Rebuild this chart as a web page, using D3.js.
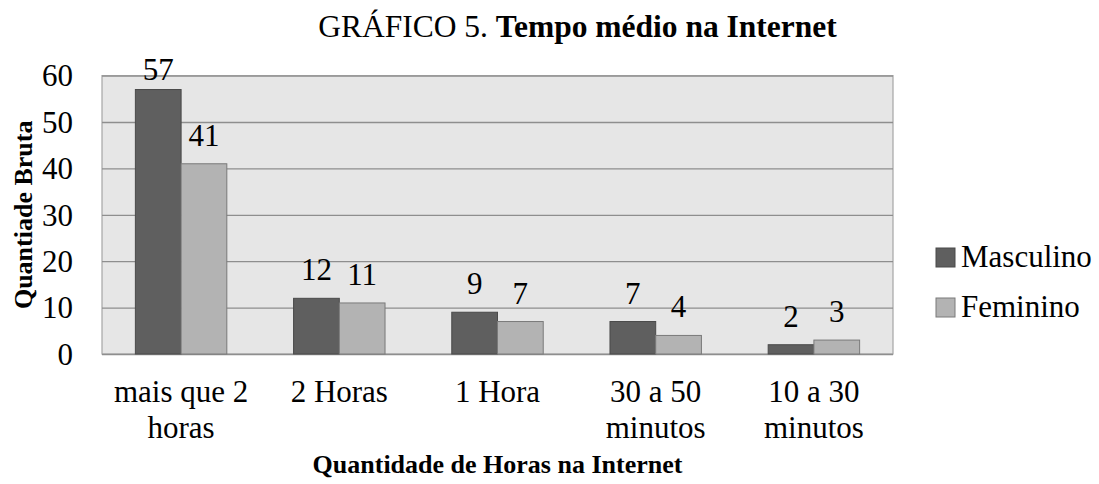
<!DOCTYPE html>
<html>
<head>
<meta charset="utf-8">
<script src="https://cdn.jsdelivr.net/npm/d3@7"></script>
<style>
  html, body { margin: 0; padding: 0; background: #fff; }
  svg text { font-family: "Liberation Serif", "DejaVu Serif", serif; }
</style>
</head>
<body>
<svg id="chart" width="1099" height="484"></svg>
<script>
const categories = [["mais que 2", "horas"], ["2 Horas"], ["1 Hora"], ["30 a 50", "minutos"], ["10 a 30", "minutos"]];
const seriesNames = ["Masculino", "Feminino"];
const masculino = [57, 12, 9, 7, 2];
const feminino = [41, 11, 7, 4, 3];
const yTicks = [0, 10, 20, 30, 40, 50, 60];
const colors = ["#5f5f5f", "#b3b3b3"];
const strokes = ["#4a4a4a", "#7a7a7a"];

const svg = d3.select("#chart");
const plot = { left: 102, right: 893, top: 75.6, bottom: 354 };

const x0 = d3.scaleBand().domain(d3.range(categories.length)).range([plot.left, plot.right]).padding(0);
const x1 = d3.scaleBand().domain(d3.range(seriesNames.length)).range([0, x0.bandwidth()]).paddingInner(0).paddingOuter(0.73);
const y = d3.scaleLinear().domain([0, 60]).range([plot.bottom, plot.top]);

svg.append("rect")
  .attr("x", plot.left).attr("y", plot.top)
  .attr("width", plot.right - plot.left).attr("height", plot.bottom - plot.top)
  .attr("fill", "#e6e6e6").attr("stroke", "#a6a6a6").attr("stroke-width", 1.2);

const yAxis = d3.axisLeft(y).tickValues(yTicks).tickSize(-(plot.right - plot.left)).tickFormat("");
const ga = svg.append("g").attr("transform", `translate(${plot.left},0)`).call(yAxis);
ga.select(".domain").remove();
ga.selectAll(".tick line").attr("stroke", "#8e8e8e").attr("stroke-width", 1.3);

svg.append("g").selectAll("text").data(yTicks).join("text")
  .attr("x", 73).attr("y", d => y(d)).attr("dy", "0.35em")
  .attr("text-anchor", "end").attr("font-size", 31).attr("fill", "#000")
  .text(d => d);

const data = [masculino, feminino];
const groups = svg.append("g").selectAll("g").data(categories).join("g")
  .attr("transform", (d, i) => `translate(${x0(i)},0)`);

groups.selectAll("rect").data((d, i) => data.map((s, k) => ({ k, v: s[i] }))).join("rect")
  .attr("x", d => x1(d.k)).attr("y", d => y(d.v))
  .attr("width", x1.bandwidth()).attr("height", d => y(0) - y(d.v))
  .attr("fill", d => colors[d.k]).attr("stroke", d => strokes[d.k]).attr("stroke-width", 1);

groups.selectAll("text.lbl").data((d, i) => data.map((s, k) => ({ k, v: s[i] }))).join("text")
  .attr("class", "lbl")
  .attr("x", d => x1(d.k) + x1.bandwidth() / 2)
  .attr("y", d => Math.max(y(d.v) - 18, y(60) + 4))
  .attr("text-anchor", "middle").attr("font-size", 31).attr("fill", "#000")
  .text(d => d.v);

const cl = svg.append("g").selectAll("text").data(categories).join("text")
  .attr("x", (d, i) => x0(i) + x0.bandwidth() / 2).attr("y", 402)
  .attr("text-anchor", "middle").attr("font-size", 31).attr("fill", "#000");
cl.selectAll("tspan").data(d => d).join("tspan")
  .attr("x", function () { return this.parentNode.getAttribute("x"); })
  .attr("dy", (d, j) => j === 0 ? 0 : 36)
  .text(d => d);

const title = svg.append("text").attr("x", 577.5).attr("y", 37)
  .attr("text-anchor", "middle").attr("font-size", 31.5).attr("fill", "#000");
title.append("tspan").text("GRÁFICO 5. ");
title.append("tspan").attr("font-weight", "bold").text("Tempo médio na Internet");

svg.append("text").attr("x", (plot.left + plot.right) / 2).attr("y", 473)
  .attr("text-anchor", "middle").attr("font-size", 26).attr("font-weight", "bold")
  .text("Quantidade de Horas na Internet");
svg.append("text")
  .attr("transform", `translate(32,${(plot.top + plot.bottom) / 2}) rotate(-90)`)
  .attr("text-anchor", "middle").attr("font-size", 26).attr("font-weight", "bold")
  .text("Quantiade Bruta");

const lg = svg.append("g").selectAll("g").data(seriesNames).join("g")
  .attr("transform", (d, i) => `translate(936,${267 + i * 50})`);
lg.append("rect").attr("x", 0).attr("y", -19).attr("width", 19).attr("height", 19)
  .attr("fill", (d, i) => colors[i]).attr("stroke", (d, i) => strokes[i]).attr("stroke-width", 1);
lg.append("text").attr("x", 25).attr("y", 0).attr("font-size", 31).text(d => d);
</script>
</body>
</html>
